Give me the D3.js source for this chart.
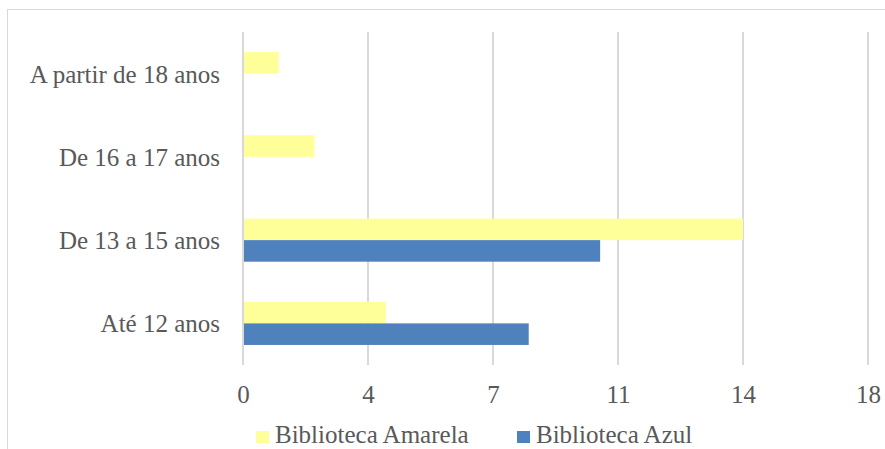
<!DOCTYPE html>
<html>
<head>
<meta charset="utf-8">
<script src="https://cdn.jsdelivr.net/npm/d3@7"></script>
<style>
  html, body { margin: 0; padding: 0; background: #fff; }
  svg { display: block; }
  text { font-family: "Liberation Serif", "DejaVu Serif", serif; fill: #595959; }
</style>
</head>
<body>
<svg id="chart" width="885" height="449"></svg>
<script>
// Age groups, listed bottom to top
const categories = ["Até 12 anos", "De 13 a 15 anos", "De 16 a 17 anos", "A partir de 18 anos"];
const seriesNames = ["Biblioteca Amarela", "Biblioteca Azul"];
const amarela = [4, 14, 2, 1];
const azul = [8, 10, 0, 0];
const xTicks = [0, 3.5, 7, 10.5, 14, 17.5];
const xTickLabels = ["0", "4", "7", "11", "14", "18"];
const colors = ["#FFFF99", "#4F81BD"];

const svg = d3.select("#chart");

// outer chart frame
svg.append("rect")
  .attr("x", 7.5).attr("y", 9.5)
  .attr("width", 920).attr("height", 480)
  .attr("fill", "none").attr("stroke", "#d9d9d9").attr("stroke-width", 1);

const plot = { left: 243, right: 868, top: 32, bottom: 365 };

const x = d3.scaleLinear().domain([0, 17.5]).range([plot.left, plot.right]);
const y = d3.scaleBand()
  .domain(categories.slice().reverse())
  .range([plot.top, plot.bottom]);
const inner = d3.scaleBand()
  .domain(seriesNames)
  .range([0, y.bandwidth()])
  .paddingOuter(0.93);

// vertical gridlines
svg.append("g")
  .selectAll("line")
  .data(xTicks)
  .join("line")
  .attr("x1", d => x(d)).attr("x2", d => x(d))
  .attr("y1", plot.top).attr("y2", plot.bottom)
  .attr("stroke", "#d9d9d9").attr("stroke-width", 2);

// bars
const rows = categories.map((c, i) => ({ cat: c, vals: [amarela[i], azul[i]] }));
const groups = svg.append("g")
  .selectAll("g")
  .data(rows)
  .join("g")
  .attr("transform", d => `translate(0,${y(d.cat)})`);

groups.selectAll("rect")
  .data(d => d.vals.map((v, j) => ({ v, s: seriesNames[j], j })))
  .join("rect")
  .filter(d => d.v > 0)
  .attr("x", x(0) + 1)
  .attr("y", d => inner(d.s))
  .attr("width", d => x(d.v) - x(0) - 1)
  .attr("height", inner.bandwidth())
  .attr("fill", d => colors[d.j]);

// value axis labels
const xAxis = d3.axisBottom(x)
  .tickValues(xTicks)
  .tickFormat((d, i) => xTickLabels[i])
  .tickSize(0)
  .tickPadding(0);

const xg = svg.append("g")
  .attr("transform", `translate(0,${plot.bottom})`)
  .call(xAxis);
xg.select(".domain").remove();
xg.selectAll("text")
  .attr("font-family", null)
  .attr("y", 38)
  .attr("dy", null)
  .style("font-size", "25px")
  .style("fill", "#595959");

// category labels
const yAxis = d3.axisLeft(y).tickSize(0).tickPadding(0);
const yg = svg.append("g")
  .attr("transform", `translate(220,0)`)
  .call(yAxis);
yg.select(".domain").remove();
yg.selectAll("text")
  .attr("font-family", null)
  .attr("x", 0)
  .attr("dy", "9")
  .style("font-size", "25px")
  .style("fill", "#595959");

// legend
const legendItems = [
  { name: seriesNames[0], color: colors[0], x: 256 },
  { name: seriesNames[1], color: colors[1], x: 517 }
];
const lg = svg.append("g");
legendItems.forEach(it => {
  lg.append("rect")
    .attr("x", it.x).attr("y", 431)
    .attr("width", 13).attr("height", 12)
    .attr("fill", it.color);
  lg.append("text")
    .attr("x", it.x + 19).attr("y", 443)
    .style("font-size", "25px")
    .text(it.name);
});
</script>
</body>
</html>
